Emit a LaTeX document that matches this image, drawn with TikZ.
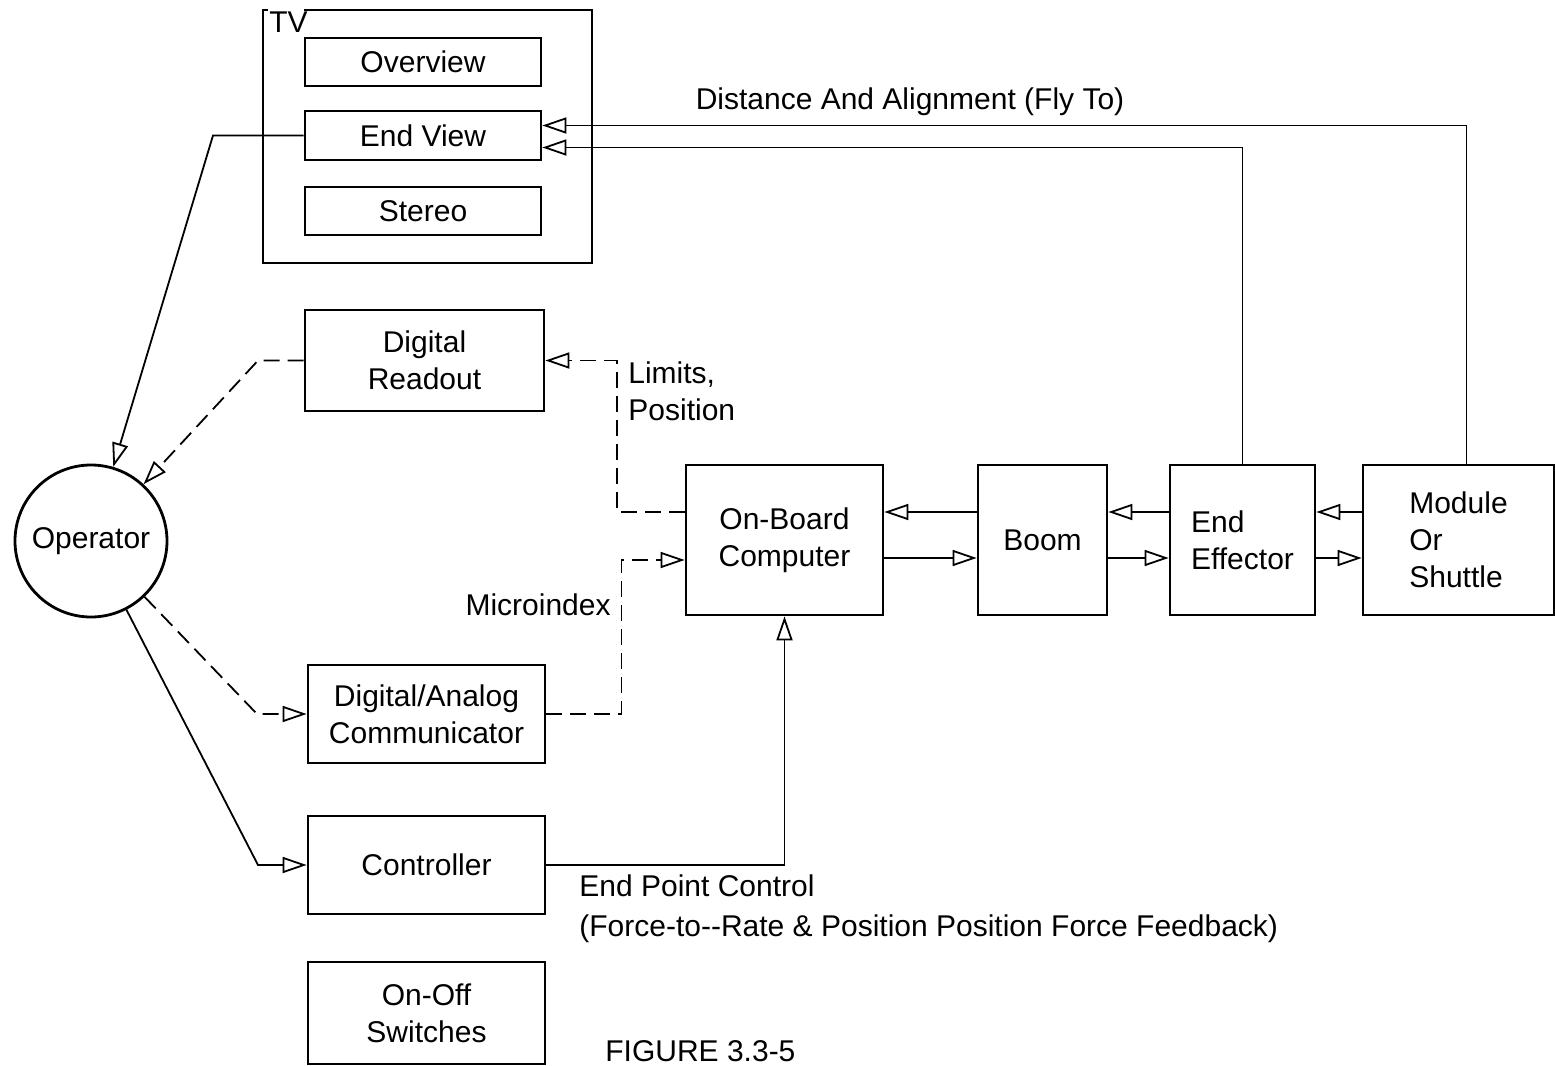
\documentclass[tikz,border=0pt]{standalone}
\usepackage{fontspec}
\setmainfont{Liberation Sans}
\usetikzlibrary{arrows.meta,positioning,calc}

\begin{document}
\begin{tikzpicture}[x=0.5pt, y=-0.5pt,
      font=\fontsize{15}{18.5}\selectfont,
      blk/.style={draw, line width=1.4pt, align=center, inner sep=0pt},
      lbl/.style={inner sep=0pt},
      link/.style={line width=0.9pt, -{Triangle[open, length=12pt, width=8pt]}},
      dsh/.style={dash pattern=on 8pt off 4pt}]
  \useasboundingbox (0,0) rectangle (1555,1066);

  % TV group
  \draw[line width=1.4pt] (268,10) -- (263,10) -- (263,263) -- (592,263) -- (592,10) -- (304,10);
  \node[lbl, anchor=base west] (tvl) at (269,32) {TV};
  \node[blk, minimum width=118pt, minimum height=24pt] (ovw) at (423,62) {Overview};
  \node[blk, minimum width=118pt, minimum height=24.5pt] (endv) at (423,135.5) {End View};
  \node[blk, minimum width=118pt, minimum height=24pt] (ster) at (423,211) {Stereo};

  % left column
  \node[blk, circle, minimum size=76pt] (opr) at (91,541) {Operator};
  \node[blk, minimum width=119.5pt, minimum height=50.5pt] (rdo) at (424.5,360.5) {Digital\\Readout};
  \node[blk, minimum width=118.5pt, minimum height=49pt] (dac) at (426.5,714) {Digital/Analog\\Communicator};
  \node[blk, minimum width=118.5pt, minimum height=49pt] (ctl) at (426.5,865) {Controller};
  \node[blk, minimum width=118.5pt, minimum height=51pt] (onoff) at (426.5,1013) {On-Off\\Switches};

  % chain
  \node[blk, minimum width=98.5pt, minimum height=75pt] (comp) at (784.5,540) {On-Board\\Computer};
  \node[blk, minimum width=64.5pt, minimum height=75pt] (boom) at (1042.5,540) {Boom};
  \node[blk, align=left, minimum width=72.5pt, minimum height=75pt] (eff) at (1242.5,540) {End\\Effector};
  \node[blk, align=left, minimum width=95.5pt, minimum height=75pt] (mod) at (1458.5,540) {Module\\Or\\Shuttle};

  % labels
  \node[lbl] (dal) at (910,102) {Distance And Alignment (Fly To)};
  \node[lbl, anchor=west, align=left] (lpl) at (628,391) {Limits,\\Position};
  \node[lbl, anchor=east] (mil) at (611,605) {Microindex};
  \node[lbl, anchor=north west, align=left, font=\fontsize{15}{20}\selectfont] (epc) at (579,874)
    {End Point Control\\(Force-to-{}-Rate \& Position Position Force Feedback)};
  \node[lbl, anchor=base west] (fig) at (605,1061) {FIGURE 3.3-5};

  % connectors
  \draw[link] (endv.west) -- (213,135.5) -- (opr);
  \draw[link, dsh] (rdo.west) -- (258,360.5) -- (opr);
  \draw[link, dsh] (opr) -- (257,714) -- (dac.west);
  \draw[link] (opr) -- (258,865) -- (ctl.west);
  \draw[link, dsh] ([yshift=14pt]comp.west) -- ++(-68,0) |- (rdo.east);
  \draw[link, dsh] (dac.east) -- ++(75,0) |- ([yshift=-10pt]comp.west);
  \draw[link] (ctl.east) -| (comp.south);

  \draw[link] ([yshift=14pt]boom.west) -- ([yshift=14pt]comp.east);
  \draw[link] ([yshift=-9pt]comp.east) -- ([yshift=-9pt]boom.west);
  \draw[link] ([yshift=14pt]eff.west) -- ([yshift=14pt]boom.east);
  \draw[link] ([yshift=-9pt]boom.east) -- ([yshift=-9pt]eff.west);
  \draw[link] ([yshift=14pt]mod.west) -- ([yshift=14pt]eff.east);
  \draw[link] ([yshift=-9pt]eff.east) -- ([yshift=-9pt]mod.west);

  \draw[link] (eff.north) |- ([yshift=-6pt]endv.east);
  \draw[link] ([xshift=4pt]mod.north) |- ([yshift=5pt]endv.east);
\end{tikzpicture}
\end{document}
